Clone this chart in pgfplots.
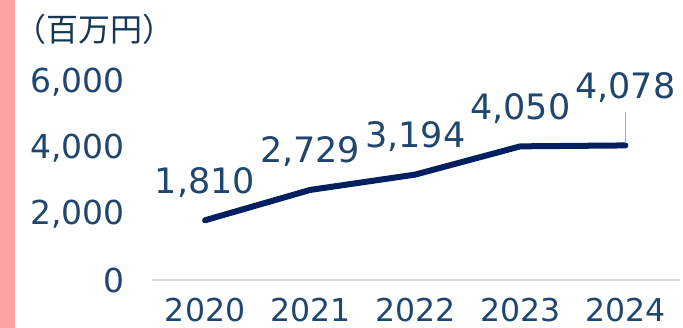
\documentclass[border=0pt]{standalone}
\usepackage{pgfplots}
\pgfplotsset{compat=1.18}
\usepackage{fontspec}
\setmainfont{DejaVu Sans}
\newfontfamily\cjk{Noto Sans CJK JP}
\definecolor{pinkc}{RGB}{249,163,163}
\definecolor{numc}{RGB}{30,70,110}
\definecolor{titc}{RGB}{22,56,82}
\definecolor{linec}{RGB}{0,32,96}
\definecolor{axc}{RGB}{217,217,217}
\definecolor{leadc}{RGB}{170,170,170}
\begin{document}
\begin{tikzpicture}
\path[use as bounding box] (-152pt,-48pt) rectangle (531pt,280pt);
\fill[pinkc] (-152pt,-48pt) rectangle (-137pt,280pt);
\node[anchor=west, inner sep=0pt, text=titc, font=\cjk\fontsize{32}{32}\selectfont] at (-138pt,251pt) {（百万円）};
\begin{axis}[
  scale only axis, width=528pt, height=198pt,
  at={(0pt,0pt)}, anchor=south west,
  xmin=-0.505, xmax=4.52, ymin=0, ymax=6000,
  axis x line*=bottom, axis y line*=left,
  x axis line style={draw=axc, line width=1.5pt, -},
  y axis line style={draw=none},
  major tick length=0pt,
  xtick={0,1,2,3,4}, xticklabels={2020,2021,2022,2023,2024},
  ytick={0,2000,4000,6000},
  scaled y ticks=false,
  /pgf/number format/1000 sep={,},
  /pgf/number format/assume math mode=true,
  yticklabel style={font=\fontsize{33}{33}\selectfont, text=numc, anchor=east, inner sep=0pt, xshift=-27pt},
  xticklabel style={font=\fontsize{31.5}{31.5}\selectfont, text=numc, anchor=north, inner sep=0pt, yshift=-18pt},
  clip=false,
  point meta=explicit symbolic,
  nodes near coords,
  every node near coord/.append style={anchor=center, inner sep=0pt, yshift=38pt, font=\fontsize{35}{35}\selectfont, text=numc},
]
\addplot[linec, line width=6pt, line cap=round, line join=round] coordinates {
  (0,1810) [1,810]
  (1,2729) [2,729]
  (2,3194) [3,194]
  (3,4050) [4,050]
  (4,4078) []
};
\addplot[draw=none, nodes near coords, every node near coord/.append style={yshift=20pt}] coordinates {
  (4,4078) [4,078]
};
\draw[leadc, line width=1pt] ([yshift=2pt]axis cs:4,4078) -- ([yshift=33pt]axis cs:4,4078);
\end{axis}
\end{tikzpicture}
\end{document}
